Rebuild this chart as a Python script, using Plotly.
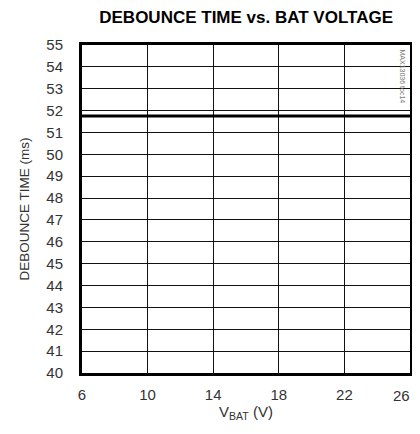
import plotly.graph_objects as go

# data
vbat = [6, 10, 14, 18, 22, 26]
debounce_ms = [51.75, 51.75, 51.75, 51.75, 51.75, 51.75]
x_ticks = [6, 10, 14, 18, 22, 26]
y_ticks = list(range(40, 56))

font_main = "Liberation Sans, Arial, sans-serif"

fig = go.Figure()
fig.add_trace(go.Scatter(x=vbat, y=debounce_ms, mode='lines',
                         line=dict(color='black', width=3), showlegend=False))

# page body has an 8px margin, so the figure is sized/offset for that
fig.update_layout(
    width=412, height=418,
    margin=dict(l=74, r=10, t=37, b=53, autoexpand=False),
    paper_bgcolor='white', plot_bgcolor='white',
    font=dict(family=font_main, color='#333', size=14),
    title=dict(text='<b>DEBOUNCE TIME vs. BAT VOLTAGE</b>', xref='container', x=0.578,
               xanchor='center', yref='container', y=0.978, yanchor='middle',
               font=dict(size=17, color='black', family=font_main)),
    xaxis=dict(range=[6, 26], tickvals=x_ticks[:-1], showgrid=True, gridcolor='#111', gridwidth=1,
               showline=True, linecolor='black', linewidth=3, mirror=True,
               ticks='', ticklabelstandoff=6, automargin=False,
               zeroline=False, tickfont=dict(size=15),
               title=dict(text='V<sub>BAT</sub> (V)', font=dict(size=15), standoff=4)),
    yaxis=dict(range=[40, 55], tickvals=y_ticks, showgrid=True, gridcolor='#111', gridwidth=1,
               showline=True, linecolor='black', linewidth=3, mirror=True,
               ticks='', ticklabelstandoff=13, automargin=False,
               zeroline=False, tickfont=dict(size=15),
               title=dict(text='DEBOUNCE TIME (ms)', font=dict(size=13.5), standoff=14)),
)

# last x tick label, nudged left so it is not clipped at the page edge
fig.add_annotation(text=str(x_ticks[-1]), xref='x', yref='paper', x=x_ticks[-1], y=0,
                   xanchor='right', yanchor='middle', yshift=-22, xshift=2, showarrow=False,
                   font=dict(size=15, color='#333', family=font_main))

fig.add_annotation(text='MAX13036 toc14', xref='paper', yref='paper', x=1.0, y=1.0,
                   xanchor='right', yanchor='top', textangle=90, showarrow=False,
                   xshift=-2, yshift=-2,
                   font=dict(size=7, color='#777', family=font_main))

fig.write_html("out.html")
